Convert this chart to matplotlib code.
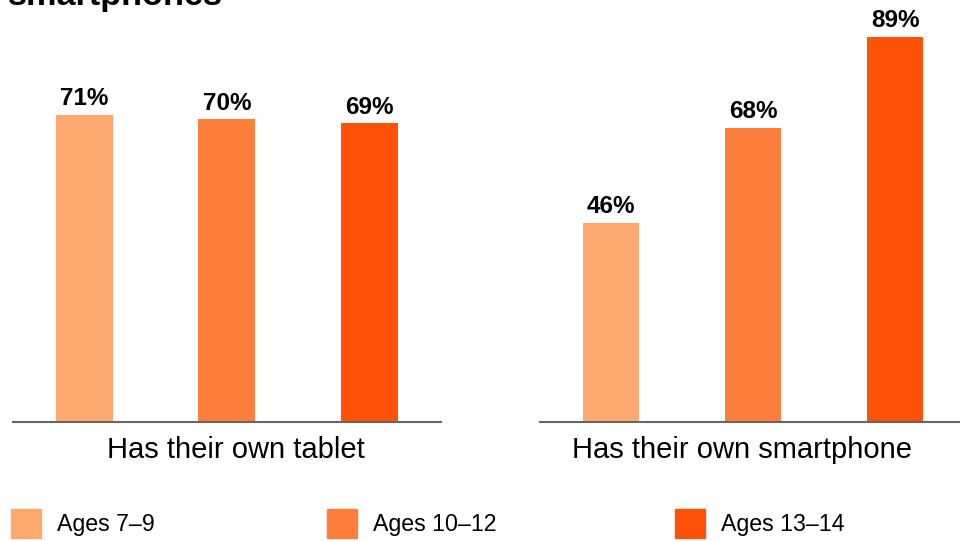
import matplotlib
matplotlib.use('Agg')
import matplotlib.pyplot as plt
import matplotlib.patches as patch

plt.rcParams['font.family'] = ['Liberation Sans', 'DejaVu Sans']

# data
groups = ['Has their own tablet', 'Has their own smartphone']
ages = ['Ages 7\u20139', 'Ages 10\u201312', 'Ages 13\u201314']
tablet = [71, 70, 69]
smartphone = [46, 68, 89]
colors = ['#FDA96F', '#FE7E3C', '#FE5209']

W, H = 960, 541
fig = plt.figure(figsize=(W/100, H/100), dpi=100)

def px_axes(x0, x1, ybase, htop):
    # axes rect from pixel coordinates (top-left origin)
    return fig.add_axes([x0/W, (H - ybase)/H, (x1 - x0)/W, htop/H])

scale = 4.33  # px per percent
ymax = 95
axs = [px_axes(13, 440.5, 422, ymax*scale),
       px_axes(540, 966, 422, ymax*scale)]
label_cx = [235.5, 741.5]

for ax, vals, name, cx in zip(axs, [tablet, smartphone], groups, label_cx):
    xs = range(len(vals))
    ax.bar(xs, vals, width=0.4, color=colors)
    for x, v in zip(xs, vals):
        ax.text(x, v + 1.0, '%d%%' % v, ha='center', va='bottom',
                fontsize=17.5, fontweight='bold', color='black')
    ax.set_xlim(-0.5, 2.5)
    ax.set_ylim(0, ymax)
    ax.axis('off')
    ax.axhline(0, color='#666666', lw=1.5, clip_on=False)
    fig.text(cx/W, 1 - 435.5/H, name, ha='center', va='top',
             fontsize=21, color='black')

# clipped title remnant
fig.text(8/W, 1 - 5/H, 'smartphones', ha='left', va='baseline',
         fontsize=24.7, fontweight='bold', color='black')

# legend
leg_x = [11, 327, 675]
for x, lab, c in zip(leg_x, ages, colors):
    fig.patches.append(patch.Rectangle((x/W, (H - 538)/H), 30/W, 29/H,
                                       transform=fig.transFigure,
                                       color=c, figure=fig))
    fig.text((x + 46)/W, 1 - 525/H, lab, ha='left', va='center',
             fontsize=16.7, color='black')

fig.savefig('out.png', dpi=100)
